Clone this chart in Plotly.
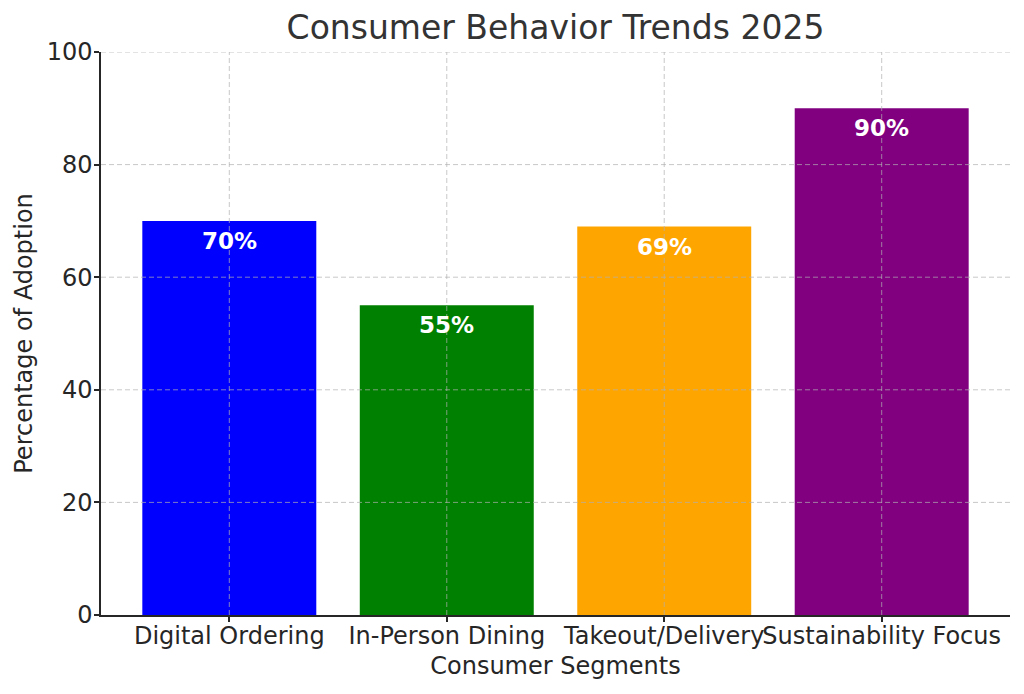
import plotly.graph_objects as go

categories = ["Digital Ordering", "In-Person Dining", "Takeout/Delivery", "Sustainability Focus"]
values = [70, 55, 69, 90]
colors = ["#0000ff", "#008000", "#ffa500", "#800080"]
labels = ["70%", "55%", "69%", "90%"]
y_ticks = [0, 20, 40, 60, 80, 100]

FONT = "DejaVu Sans"
TXT = "#262626"

fig = go.Figure()
fig.add_trace(go.Bar(
    x=categories, y=values, marker_color=colors, marker_line_width=0,
    width=0.8, showlegend=False, hoverinfo="skip",
))

for c, v, t in zip(categories, values, labels):
    fig.add_annotation(x=c, y=v, text="<b>%s</b>" % t, showarrow=False,
                       yanchor="top", yshift=-5,
                       font=dict(family=FONT, size=23, color="white"))

grid = dict(color="rgba(176,176,176,0.7)", width=1, dash="5px,3px")
for t in y_ticks[1:]:
    fig.add_shape(type="line", xref="paper", yref="y", x0=0, x1=1, y0=t, y1=t,
                  line=grid, layer="above")
for c in categories:
    fig.add_shape(type="line", xref="x", yref="paper", x0=c, x1=c, y0=0, y1=1,
                  line=grid, layer="above")

fig.update_layout(
    width=1024, height=694,
    margin=dict(l=101, r=14, t=52, b=79),
    paper_bgcolor="white", plot_bgcolor="white",
    font=dict(family=FONT, color=TXT),
    title=dict(text="Consumer Behavior Trends 2025", x=0.5, xref="paper", xanchor="center",
               y=0.96, yanchor="middle",
               font=dict(family=FONT, size=33, color="#333333")),
    bargap=0.2,
)
fig.update_xaxes(
    range=[-0.59, 3.59], showgrid=False, showline=True, linecolor=TXT, linewidth=1.5,
    ticks="outside", ticklen=5, tickwidth=1.5, tickcolor=TXT, tickangle=0,
    ticklabelstandoff=-7,
    tickfont=dict(family=FONT, size=24, color=TXT),
    title=dict(text="Consumer Segments", standoff=9, font=dict(family=FONT, size=24, color=TXT)),
    mirror=False, zeroline=False,
)
fig.update_yaxes(
    range=[0, 100], tickvals=y_ticks, showgrid=False, showline=True, linecolor=TXT, linewidth=1.5,
    ticks="outside", ticklen=5, tickwidth=1.5, tickcolor=TXT,
    ticklabelstandoff=-3,
    tickfont=dict(family=FONT, size=24, color=TXT),
    title=dict(text="Percentage of Adoption", standoff=7, font=dict(family=FONT, size=24, color=TXT)),
    zeroline=False,
)

fig.write_html("out.html", config={"displayModeBar": False},
               post_script="document.body.style.margin='0';")
